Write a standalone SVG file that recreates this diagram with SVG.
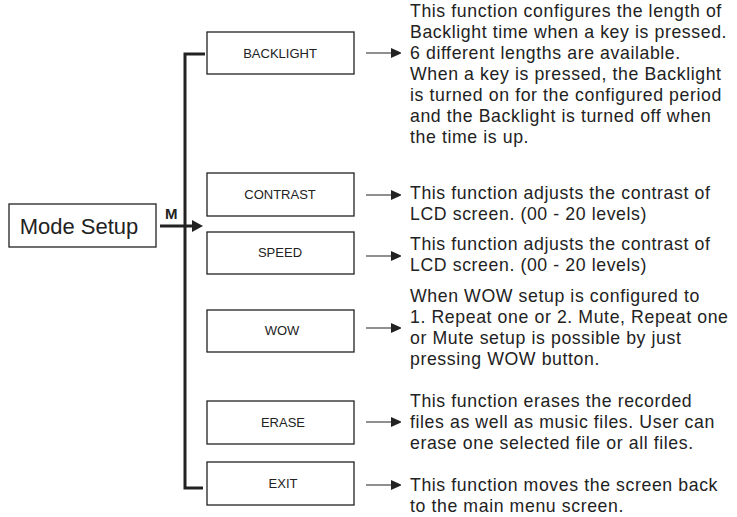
<svg xmlns="http://www.w3.org/2000/svg" width="737" height="517" viewBox="0 0 737 517">
<style>
.b{fill:#fff;stroke:#222;stroke-width:1.3}
.l{font-family:"Liberation Sans",Arial,sans-serif;font-size:13px;fill:#222;text-anchor:middle}
.d{font-family:"Liberation Sans",Arial,sans-serif;font-size:17.7px;fill:#222;letter-spacing:0.6px}
.c{stroke:#222;stroke-width:1.2;fill:none}
.t{stroke:#222;stroke-width:3;fill:none}
</style>
<defs><marker id="a" markerWidth="10" markerHeight="10" refX="9" refY="5" orient="auto" markerUnits="userSpaceOnUse"><path d="M0,0L11,5L0,10z" fill="#222"/></marker></defs>
<rect width="737" height="517" fill="#fff"/>
<g id="connectors">
<path class="t" d="M205,54H185V488H203"/>
<line class="t" x1="160" y1="226" x2="194" y2="226"/>
<path d="M192,220L203,226L192,232z" fill="#222"/>
<text x="165" y="219" font-family="Liberation Sans,Arial,sans-serif" font-size="15" font-weight="bold" fill="#222">M</text>
<line class="c" x1="366" y1="53" x2="400" y2="53" marker-end="url(#a)"/>
<line class="c" x1="366" y1="195" x2="400" y2="195" marker-end="url(#a)"/>
<line class="c" x1="366" y1="256" x2="400" y2="256" marker-end="url(#a)"/>
<line class="c" x1="366" y1="328" x2="400" y2="328" marker-end="url(#a)"/>
<line class="c" x1="366" y1="422" x2="400" y2="422" marker-end="url(#a)"/>
<line class="c" x1="366" y1="485" x2="400" y2="485" marker-end="url(#a)"/>
</g>
<g id="mode"><rect class="b" x="9" y="204" width="147" height="43"/><text x="79" y="234" font-family="Liberation Sans,Arial,sans-serif" font-size="22" fill="#222" text-anchor="middle">Mode Setup</text></g>
<g id="backlight"><rect class="b" x="207" y="32" width="147" height="42"/><text class="l" x="280" y="58">BACKLIGHT</text></g>
<g id="contrast"><rect class="b" x="207" y="173" width="147" height="43"/><text class="l" x="280" y="199">CONTRAST</text></g>
<g id="speed"><rect class="b" x="207" y="232" width="147" height="42"/><text class="l" x="280" y="257">SPEED</text></g>
<g id="wow"><rect class="b" x="207" y="310" width="147" height="42"/><text class="l" x="282" y="335">WOW</text></g>
<g id="erase"><rect class="b" x="207" y="401" width="147" height="43"/><text class="l" x="283" y="427">ERASE</text></g>
<g id="exit"><rect class="b" x="207" y="462" width="147" height="43"/><text class="l" x="283" y="488">EXIT</text></g>
<g id="texts">
<text class="d" x="410" y="17">This function configures the length of</text>
<text class="d" x="410" y="38">Backlight time when a key is pressed.</text>
<text class="d" x="410" y="59">6 different lengths are available.</text>
<text class="d" x="410" y="80">When a key is pressed, the Backlight</text>
<text class="d" x="410" y="101">is turned on for the configured period</text>
<text class="d" x="410" y="122">and the Backlight is turned off when</text>
<text class="d" x="410" y="143">the time is up.</text>
<text class="d" x="410" y="199">This function adjusts the contrast of</text>
<text class="d" x="410" y="220">LCD screen. (00 - 20 levels)</text>
<text class="d" x="410" y="250">This function adjusts the contrast of</text>
<text class="d" x="410" y="271">LCD screen. (00 - 20 levels)</text>
<text class="d" x="410" y="302">When WOW setup is configured to</text>
<text class="d" x="410" y="323">1. Repeat one or 2. Mute, Repeat one</text>
<text class="d" x="410" y="344">or Mute setup is possible by just</text>
<text class="d" x="410" y="365">pressing WOW button.</text>
<text class="d" x="410" y="407">This function erases the recorded</text>
<text class="d" x="410" y="428">files as well as music files. User can</text>
<text class="d" x="410" y="449">erase one selected file or all files.</text>
<text class="d" x="410" y="491">This function moves the screen back</text>
<text class="d" x="410" y="512">to the main menu screen.</text>
</g>
</svg>
